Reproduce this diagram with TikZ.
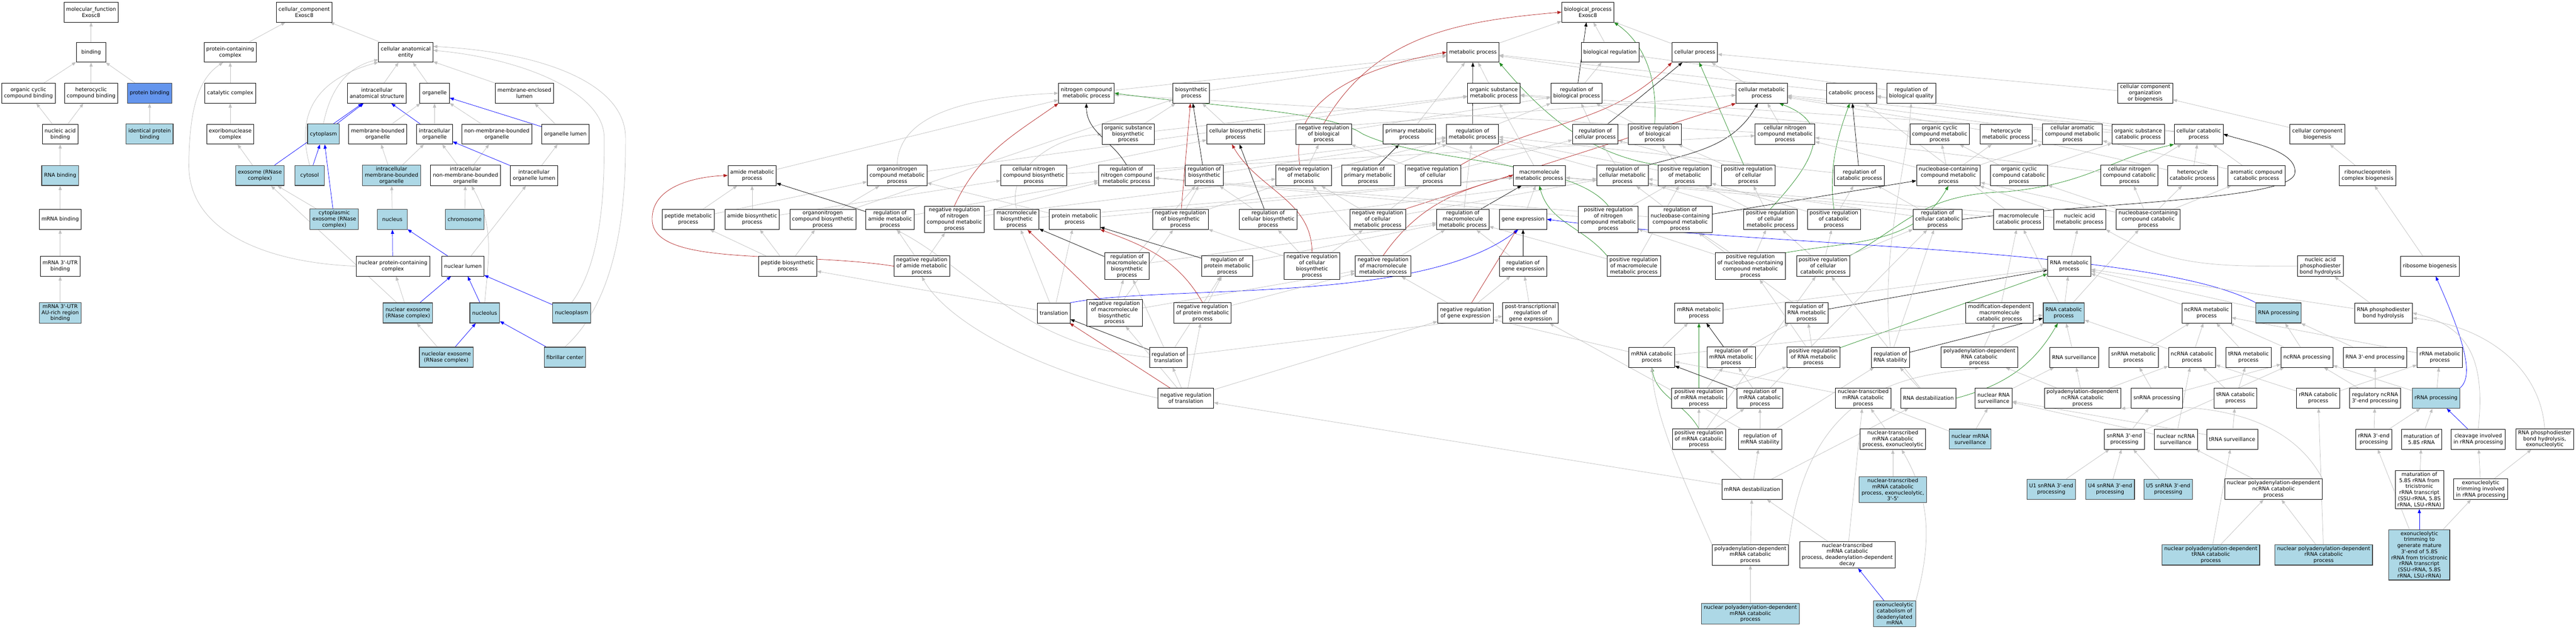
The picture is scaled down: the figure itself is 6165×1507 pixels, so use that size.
\documentclass[tikz,border=0pt]{standalone}
\usepackage{fontspec}
\setmainfont{DejaVu Sans}
\usepackage{tikz}
\usetikzlibrary{arrows.meta,shapes,calc}
\usetikzlibrary{positioning}
\pgfdeclarelayer{background}
\pgfsetlayers{background,main}
\definecolor{hitblue}{HTML}{ADD8E6}
\definecolor{querybl}{HTML}{6495ED}
\definecolor{edgegray}{HTML}{C0C0C0}
\definecolor{negred}{HTML}{B22222}
\definecolor{posgreen}{HTML}{228B22}
\tikzstyle{term} =
  [rectangle, draw, fill=white, line width=0.9pt, align=center,
   minimum width=71pt, minimum height=48pt, inner xsep=5.5pt, inner ysep=4pt,
   font=\fontsize{12.5}{14.5}\selectfont]
\tikzstyle{hit} = [term, fill=hitblue, draw=black!75, line width=1.5pt]
\tikzstyle{query} = [term, fill=querybl, draw=black!75, line width=1.5pt]
\tikzstyle{isa}=[draw,-{Triangle[length=10pt,width=7.5pt]},edgegray,line width=0.9pt]
\tikzstyle{partof}=[isa,blue]
\tikzstyle{regs}=[isa,black]
\tikzstyle{negregs}=[isa,negred]
\tikzstyle{posregs}=[isa,posgreen]

\begin{document}
\begin{tikzpicture}[x=1pt,y=1pt]
  \useasboundingbox (0,0) rectangle (6165,-1507);

  \node [term] (mf) at (218,-29) {molecular\_function\\Exosc8};
  \node [term] (binding) at (218,-125) {binding};
  \node [term] (orgcycbind) at (68,-223) {organic cyclic\\compound binding};
  \node [term] (hetbind) at (218,-223) {heterocyclic\\compound binding};
  \node [query] (protbind) at (358,-223) {protein binding};
  \node [term] (nucbind) at (144,-321) {nucleic acid\\binding};
  \node [hit] (identbind) at (358,-321) {identical protein\\binding};
  \node [hit] (rnabind) at (144,-420) {RNA binding};
  \node [term] (mrnabind) at (144,-525) {mRNA binding};
  \node [term] (utrbind) at (144,-637) {mRNA 3\textquotesingle-UTR\\binding};
  \node [hit] (aubind) at (144,-749) {mRNA 3\textquotesingle-UTR\\AU-rich region\\binding};

  \node [term] (cc) at (728,-29) {cellular\_component\\Exosc8};
  \node [term] (pcc) at (551,-125) {protein-containing\\complex};
  \node [term] (cae) at (971,-125) {cellular anatomical\\entity};
  \node [term] (catcx) at (551,-223) {catalytic complex};
  \node [term] (ias) at (902,-223) {intracellular\\anatomical structure};
  \node [term] (organelle) at (1040,-223) {organelle};
  \node [term] (mel) at (1255,-223) {membrane-enclosed\\lumen};
  \node [term] (exocx) at (551,-321) {exoribonuclease\\complex};
  \node [hit] (cytoplasm) at (774,-321) {cytoplasm};
  \node [term] (mbo) at (904,-321) {membrane-bounded\\organelle};
  \node [term] (io) at (1040,-321) {intracellular\\organelle};
  \node [term] (nmbo) at (1189,-321) {non-membrane-bounded\\organelle};
  \node [term] (ol) at (1353,-321) {organelle lumen};
  \node [hit] (exosome) at (622,-420) {exosome (RNase\\complex)};
  \node [hit] (cytosol) at (741,-420) {cytosol};
  \node [hit] (imbo) at (937,-420) {intracellular\\membrane-bounded\\organelle};
  \node [term] (inmbo) at (1114,-420) {intracellular\\non-membrane-bounded\\organelle};
  \node [term] (iol) at (1278,-420) {intracellular\\organelle lumen};
  \node [hit] (cytexo) at (800,-525) {cytoplasmic\\exosome (RNase\\complex)};
  \node [hit] (nucleus) at (939,-525) {nucleus};
  \node [hit] (chromosome) at (1112,-525) {chromosome};
  \node [term] (npcc) at (940,-637) {nuclear protein-containing\\complex};
  \node [term] (nlumen) at (1108,-637) {nuclear lumen};
  \node [hit] (nucexo) at (976,-749) {nuclear exosome\\(RNase complex)};
  \node [hit] (nucleolus) at (1160,-749) {nucleolus};
  \node [hit] (nucleoplasm) at (1368,-749) {nucleoplasm};
  \node [hit] (nolexo) at (1068,-855) {nucleolar exosome\\(RNase complex)};
  \node [hit] (fibc) at (1352,-855) {fibrillar center};

  \node [term] (bp) at (3800,-29) {biological\_process\\Exosc8};
  \node [term] (metab) at (3525,-125) {metabolic process};
  \node [term] (bioreg) at (3853,-125) {biological regulation};
  \node [term] (cellproc) at (4056,-125) {cellular process};
  \node [term] (ncmp) at (2600,-223) {nitrogen compound\\metabolic process};
  \node [term] (biosyn) at (2851,-223) {biosynthetic\\process};
  \node [term] (osmp) at (3575,-223) {organic substance\\metabolic process};
  \node [term] (regbp) at (3773,-223) {regulation of\\biological process};
  \node [term] (cmp) at (4216,-223) {cellular metabolic\\process};
  \node [term] (catab) at (4431,-223) {catabolic process};
  \node [term] (regbq) at (4574,-223) {regulation of\\biological quality};
  \node [term] (ccob) at (5134,-223) {cellular component\\organization\\or biogenesis};

  \node [term] (osbp) at (2700,-321) {organic substance\\biosynthetic\\process};
  \node [term] (cbp) at (2957,-321) {cellular biosynthetic\\process};
  \node [term] (nrbp) at (3168,-321) {negative regulation\\of biological\\process};
  \node [term] (pmp) at (3373,-321) {primary metabolic\\process};
  \node [term] (rmp) at (3524,-321) {regulation of\\metabolic process};
  \node [term] (rcp) at (3818,-321) {regulation of\\cellular process};
  \node [term] (prbp) at (3960,-321) {positive regulation\\of biological\\process};
  \node [term] (cncmp) at (4272,-321) {cellular nitrogen\\compound metabolic\\process};
  \node [term] (occmp) at (4642,-321) {organic cyclic\\compound metabolic\\process};
  \node [term] (hetmp) at (4801,-321) {heterocycle\\metabolic process};
  \node [term] (camp) at (4960,-321) {cellular aromatic\\compound metabolic\\process};
  \node [term] (oscp) at (5117,-321) {organic substance\\catabolic process};
  \node [term] (ccp) at (5262,-321) {cellular catabolic\\process};
  \node [term] (ccb) at (5546,-321) {cellular component\\biogenesis};

  \node [term] (amp) at (1800,-420) {amide metabolic\\process};
  \node [term] (oncmp) at (2147,-420) {organonitrogen\\compound metabolic\\process};
  \node [term] (cncbp) at (2474,-420) {cellular nitrogen\\compound biosynthetic\\process};
  \node [term] (rncmp) at (2696,-420) {regulation of\\nitrogen compound\\metabolic process};
  \node [term] (rbp) at (2882,-420) {regulation of\\biosynthetic\\process};
  \node [term] (nrmp) at (3120,-420) {negative regulation\\of metabolic\\process};
  \node [term] (rpmp) at (3274,-420) {regulation of\\primary metabolic\\process};
  \node [term] (nrcp) at (3429,-420) {negative regulation\\of cellular\\process};
  \node [term] (mmp) at (3684,-420) {macromolecule\\metabolic process};
  \node [term] (rcmp) at (3883,-420) {regulation of\\cellular metabolic\\process};
  \node [term] (prmp) at (4032,-420) {positive regulation\\of metabolic\\process};
  \node [term] (prcp) at (4184,-420) {positive regulation\\of cellular\\process};
  \node [term] (rcatp) at (4450,-420) {regulation of\\catabolic process};
  \node [term] (nbcmp) at (4663,-420) {nucleobase-containing\\compound metabolic\\process};
  \node [term] (occcp) at (4832,-420) {organic cyclic\\compound catabolic\\process};
  \node [term] (cnccp) at (5096,-420) {cellular nitrogen\\compound catabolic\\process};
  \node [term] (hetcp) at (5247,-420) {heterocycle\\catabolic process};
  \node [term] (accp) at (5400,-420) {aromatic compound\\catabolic process};
  \node [term] (rnpcb) at (5666,-420) {ribonucleoprotein\\complex biogenesis};

  \node [term] (pepmp) at (1647,-525) {peptide metabolic\\process};
  \node [term] (abp) at (1800,-525) {amide biosynthetic\\process};
  \node [term] (oncbp) at (1969,-525) {organonitrogen\\compound biosynthetic\\process};
  \node [term] (ramp) at (2130,-525) {regulation of\\amide metabolic\\process};
  \node [term] (nrncmp) at (2284,-525) {negative regulation\\of nitrogen\\compound metabolic\\process};
  \node [term] (mbp) at (2433,-525) {macromolecule\\biosynthetic\\process};
  \node [term] (protmp) at (2572,-525) {protein metabolic\\process};
  \node [term] (nrbiop) at (2825,-525) {negative regulation\\of biosynthetic\\process};
  \node [term] (rcbp) at (3035,-525) {regulation of\\cellular biosynthetic\\process};
  \node [term] (nrcmp) at (3297,-525) {negative regulation\\of cellular\\metabolic process};
  \node [term] (rmmp) at (3501,-525) {regulation of\\macromolecule\\metabolic process};
  \node [term] (geneexp) at (3645,-525) {gene expression};
  \node [term] (prncmp) at (3849,-525) {positive regulation\\of nitrogen\\compound metabolic\\process};
  \node [term] (rnbcmp) at (4021,-525) {regulation of\\nucleobase-containing\\compound metabolic\\process};
  \node [term] (prcmp) at (4237,-525) {positive regulation\\of cellular\\metabolic process};
  \node [term] (prcatp) at (4389,-525) {positive regulation\\of catabolic\\process};
  \node [term] (rccp) at (4637,-525) {regulation of\\cellular catabolic\\process};
  \node [term] (mcp) at (4831,-525) {macromolecule\\catabolic process};
  \node [term] (namp) at (4977,-525) {nucleic acid\\metabolic process};
  \node [term] (nbccp) at (5141,-525) {nucleobase-containing\\compound catabolic\\process};

  \node [term] (pepbp) at (1885,-637) {peptide biosynthetic\\process};
  \node [term] (nramp) at (2206,-637) {negative regulation\\of amide metabolic\\process};
  \node [term] (rmbp) at (2697,-637) {regulation of\\macromolecule\\biosynthetic\\process};
  \node [term] (rpromp) at (2937,-637) {regulation of\\protein metabolic\\process};
  \node [term] (nrcbp) at (3140,-637) {negative regulation\\of cellular\\biosynthetic\\process};
  \node [term] (nrmmp) at (3310,-637) {negative regulation\\of macromolecule\\metabolic process};
  \node [term] (rge) at (3645,-637) {regulation of\\gene expression};
  \node [term] (prmmp) at (3910,-637) {positive regulation\\of macromolecule\\metabolic process};
  \node [term] (prnbcmp) at (4189,-637) {positive regulation\\of nucleobase-containing\\compound metabolic\\process};
  \node [term] (prccp) at (4363,-637) {positive regulation\\of cellular\\catabolic process};
  \node [term] (rnamp) at (4952,-637) {RNA metabolic\\process};
  \node [term] (napbh) at (5553,-637) {nucleic acid\\phosphodiester\\bond hydrolysis};
  \node [term] (ribobio) at (5815,-637) {ribosome biogenesis};

  \node [term] (translation) at (2522,-749) {translation};
  \node [term] (nrmbp) at (2667,-749) {negative regulation\\of macromolecule\\biosynthetic\\process};
  \node [term] (nrpromp) at (2878,-749) {negative regulation\\of protein metabolic\\process};
  \node [term] (nrge) at (3507,-749) {negative regulation\\of gene expression};
  \node [term] (ptrge) at (3663,-749) {post-transcriptional\\regulation of\\gene expression};
  \node [term] (mrnamp) at (4066,-749) {mRNA metabolic\\process};
  \node [term] (rrnamp) at (4324,-749) {regulation of\\RNA metabolic\\process};
  \node [term] (mdmcp) at (4785,-749) {modification-dependent\\macromolecule\\catabolic process};
  \node [hit] (rnacp) at (4939,-749) {RNA catabolic\\process};
  \node [term] (ncrnamp) at (5281,-749) {ncRNA metabolic\\process};
  \node [hit] (rnaproc) at (5453,-749) {RNA processing};
  \node [term] (rpbh) at (5704,-749) {RNA phosphodiester\\bond hydrolysis};

  \node [term] (rtrans) at (2796,-855) {regulation of\\translation};
  \node [term] (mrnacp) at (3953,-855) {mRNA catabolic\\process};
  \node [term] (rmrnamp) at (4143,-855) {regulation of\\mRNA metabolic\\process};
  \node [term] (prrnamp) at (4340,-855) {positive regulation\\of RNA metabolic\\process};
  \node [term] (rrnas) at (4524,-855) {regulation of\\RNA stability};
  \node [term] (padrcp) at (4737,-855) {polyadenylation-dependent\\RNA catabolic\\process};
  \node [term] (rnasurv) at (4964,-855) {RNA surveillance};
  \node [term] (snrnamp) at (5106,-855) {snRNA metabolic\\process};
  \node [term] (ncrnacp) at (5246,-855) {ncRNA catabolic\\process};
  \node [term] (trnamp) at (5381,-855) {tRNA metabolic\\process};
  \node [term] (ncrnaproc) at (5521,-855) {ncRNA processing};
  \node [term] (rna3p) at (5684,-855) {RNA 3\textquotesingle-end processing};
  \node [term] (rrnamet) at (5839,-855) {rRNA metabolic\\process};

  \node [term] (nrtrans) at (2838,-953) {negative regulation\\of translation};
  \node [term] (prmrnamp) at (4066,-953) {positive regulation\\of mRNA metabolic\\process};
  \node [term] (rmrnacp) at (4212,-953) {regulation of\\mRNA catabolic\\process};
  \node [term] (ntmcp) at (4459,-953) {nuclear-transcribed\\mRNA catabolic\\process};
  \node [term] (rnadestab) at (4615,-953) {RNA destabilization};
  \node [term] (nrnasurv) at (4771,-953) {nuclear RNA\\surveillance};
  \node [term] (padncp) at (4984,-953) {polyadenylation-dependent\\ncRNA catabolic\\process};
  \node [term] (snrnaproc) at (5162,-953) {snRNA processing};
  \node [term] (trnacp) at (5350,-953) {tRNA catabolic\\process};
  \node [term] (rrnacp) at (5548,-953) {rRNA catabolic\\process};
  \node [term] (regnc3p) at (5684,-953) {regulatory ncRNA\\3\textquotesingle-end processing};
  \node [hit] (rrnaproc) at (5830,-953) {rRNA processing};

  \node [term] (prmrnacp) at (4066,-1051) {positive regulation\\of mRNA catabolic\\process};
  \node [term] (rmrnas) at (4212,-1051) {regulation of\\mRNA stability};
  \node [term] (ntmcpexo) at (4530,-1051) {nuclear-transcribed\\mRNA catabolic\\process, exonucleolytic};
  \node [hit] (nmrnasurv) at (4715,-1051) {nuclear mRNA\\surveillance};
  \node [term] (snrna3p) at (5084,-1051) {snRNA 3\textquotesingle-end\\processing};
  \node [term] (nncsurv) at (5207,-1051) {nuclear ncRNA\\surveillance};
  \node [term] (trnasurv) at (5342,-1051) {tRNA surveillance};
  \node [term] (rrna3p) at (5681,-1051) {rRNA 3\textquotesingle-end\\processing};
  \node [term] (mat58) at (5795,-1051) {maturation of\\5.8S rRNA};
  \node [term] (cleav) at (5931,-1051) {cleavage involved\\in rRNA processing};
  \node [term] (rpbhexo) at (6090,-1051) {RNA phosphodiester\\bond hydrolysis,\\exonucleolytic};

  \node [term] (mrnadestab) at (4193,-1171) {mRNA destabilization};
  \node [hit] (ntmcp35) at (4530,-1172) {nuclear-transcribed\\mRNA catabolic\\process, exonucleolytic,\\3\textquotesingle-5\textquotesingle};
  \node [hit] (uone) at (4909,-1171) {U1 snRNA 3\textquotesingle-end\\processing};
  \node [hit] (ufour) at (5050,-1171) {U4 snRNA 3\textquotesingle-end\\processing};
  \node [hit] (ufive) at (5189,-1171) {U5 snRNA 3\textquotesingle-end\\processing};
  \node [term] (npadncp) at (5441,-1171) {nuclear polyadenylation-dependent\\ncRNA catabolic\\process};
  \node [term] (mattri) at (5790,-1172) {maturation of\\5.8S rRNA from\\tricistronic\\rRNA transcript\\(SSU-rRNA, 5.8S\\rRNA, LSU-rRNA)};
  \node [term] (exotrim) at (5937,-1171) {exonucleolytic\\trimming involved\\in rRNA processing};

  \node [term] (padmcp) at (4189,-1328) {polyadenylation-dependent\\mRNA catabolic\\process};
  \node [term] (ntmcpdd) at (4421,-1328) {nuclear-transcribed\\mRNA catabolic\\process, deadenylation-dependent\\decay};
  \node [hit] (npadtcp) at (5291,-1328) {nuclear polyadenylation-dependent\\tRNA catabolic\\process};
  \node [hit] (npadrcp) at (5561,-1328) {nuclear polyadenylation-dependent\\rRNA catabolic\\process};
  \node [hit] (exotrimgen) at (5790,-1328) {exonucleolytic\\trimming to\\generate mature\\3\textquotesingle-end of 5.8S\\rRNA from tricistronic\\rRNA transcript\\(SSU-rRNA, 5.8S\\rRNA, LSU-rRNA)};

  \node [hit] (npadmcp) at (4189,-1469) {nuclear polyadenylation-dependent\\mRNA catabolic\\process};
  \node [hit] (exocat) at (4534,-1469) {exonucleolytic\\catabolism of\\deadenylated\\mRNA};

  \begin{pgfonlayer}{background}
  \fill [white] (0,0) rectangle (6165,-1507);
  \draw [isa] (binding) to (mf);
  \draw [isa] (orgcycbind) to (binding);
  \draw [isa] (hetbind) to (binding);
  \draw [isa] (protbind) to (binding);
  \draw [isa] (nucbind) to (orgcycbind);
  \draw [isa] (nucbind) to (hetbind);
  \draw [isa] (identbind) to (protbind);
  \draw [isa] (rnabind) to (nucbind);
  \draw [isa] (mrnabind) to (rnabind);
  \draw [isa] (utrbind) to (mrnabind);
  \draw [isa] (aubind) to (utrbind);

  \draw [isa] (pcc) to (cc);
  \draw [isa] (cae) to (cc);
  \draw [isa] (catcx) to (pcc);
  \draw [isa] (exocx) to (catcx);
  \draw [isa] (exosome) to (exocx);
  \draw [isa] (npcc.west) .. controls (650,-630) and (455,-560) .. (452,-400)
    .. controls (452,-250) and (480,-185) .. (pcc.235);
  \draw [isa] (ias) to (cae);
  \draw [isa] (organelle) to (cae);
  \draw [isa] (mel) to (cae);
  \draw [isa] (cytoplasm.north) .. controls (790,-215) and (830,-160) .. (cae.195);
  \draw [isa] (cytosol.north) .. controls (718,-310) and (720,-200) .. (cae.200);
  \draw [isa] (nucleoplasm.north) .. controls (1446,-620) and (1446,-430) .. (1446,-330)
    .. controls (1446,-220) and (1250,-140) .. (cae.4);
  \draw [isa] (fibc.north) .. controls (1497,-700) and (1497,-430) .. (1497,-330)
    .. controls (1497,-200) and (1300,-125) .. (cae.12);
  \draw [partof] (exosome) to (ias);
  \draw [partof] (cytoplasm) to (ias);
  \draw [partof] (io) to (ias);
  \draw [isa] (mbo) to (organelle);
  \draw [isa] (io) to (organelle);
  \draw [isa] (nmbo) to (organelle);
  \draw [partof] (ol) to (organelle);
  \draw [isa] (ol) to (mel);
  \draw [partof] (cytosol) to (cytoplasm);
  \draw [partof] (cytexo) to (cytoplasm);
  \draw [isa] (cytexo) to (exosome);
  \draw [isa] (imbo) to (mbo);
  \draw [isa] (imbo) to (io);
  \draw [isa] (inmbo) to (io);
  \draw [isa] (inmbo) to (nmbo);
  \draw [partof] (iol) to (io);
  \draw [isa] (iol) to (ol);
  \draw [isa] (nucleus) to (imbo);
  \draw [isa] (chromosome) to (inmbo);
  \draw [isa] (nucleolus.north) to[out=85,in=-60] (inmbo.-60);
  \draw [partof] (npcc) to (nucleus);
  \draw [partof] (nlumen) to (nucleus);
  \draw [isa] (nlumen) to (iol);
  \draw [isa] (nucexo) to (npcc);
  \draw [partof] (nucexo) to (nlumen);
  \draw [isa] (nucexo) to (exosome);
  \draw [partof] (nucleolus) to (nlumen);
  \draw [partof] (nucleoplasm) to (nlumen);
  \draw [isa] (nolexo) to (nucexo);
  \draw [partof] (nolexo) to (nucleolus);
  \draw [partof] (fibc) to (nucleolus);

  \draw [isa] (metab) to (bp);
  \draw [isa] (bioreg) to (bp);
  \draw [isa] (cellproc) to (bp);
  \draw [isa] (ccob) to (cellproc);
  \draw [negregs] (nrbp.north) to[out=60,in=185] (bp.west);
  \draw [regs] (regbp) to (bp);
  \draw [posregs] (prbp.north) .. controls (3968,-180) and (3930,-100) .. (bp.south east);
  \draw [isa] (regbp) to (bioreg);
  \draw [isa] (regbq) to (bioreg);
  \draw [isa] (nrbp) to (regbp);
  \draw [isa] (prbp) to (regbp);
  \draw [isa] (cmp) to (cellproc);
  \draw [isa] (cmp) to (metab);
  \draw [isa] (catab) to (metab);
  \draw [isa] (osmp) to (metab);
  \draw [isa] (pmp) to (metab);
  \draw [isa] (ncmp) to (metab);
  \draw [isa] (biosyn) to (metab);
  \draw [regs] (rmp) to (metab);
  \draw [negregs] (nrmp.110) to[out=100,in=190] (metab.west);
  \draw [posregs] (prmp.north west) .. controls (3800,-370) and (3690,-270) .. (metab.south east);
  \draw [isa] (rmp) to (regbp);
  \draw [isa] (nrmp) to (rmp);
  \draw [isa] (nrmp) to (nrbp);
  \draw [isa] (prmp) to (rmp);
  \draw [isa] (prmp) to (prbp);
  \draw [regs] (rcp) to (cellproc);
  \draw [isa] (rcp) to (regbp);
  \draw [negregs] (nrcp.north east) to[out=30,in=-135] (cellproc.south west);
  \draw [isa] (nrcp) to (rcp);
  \draw [isa] (nrcp) to (nrbp);
  \draw [posregs] (prcp) to (cellproc);
  \draw [isa] (prcp) to (rcp);
  \draw [isa] (prcp) to (prbp);
  \draw [regs] (rcmp.north east) to[out=15,in=-120] (cmp.250);
  \draw [isa] (rcmp) to (rmp);
  \draw [isa] (rcmp) to (rcp);
  \draw [negregs] (nrcmp.north east) to (cmp.south west);
  \draw [isa] (nrcmp) to (rcmp);
  \draw [isa] (nrcmp) to (nrmp);
  \draw [isa] (nrcmp) to (nrcp);
  \draw [posregs] (prcmp.north) .. controls (4330,-400) and (4400,-300) .. (cmp.-30);
  \draw [isa] (prcmp) to (rcmp);
  \draw [isa] (prcmp) to (prmp);
  \draw [isa] (prcmp) to (prcp);
  \draw [regs] (rpmp) to (pmp);
  \draw [isa] (rpmp) to (rmp);
  \draw [isa] (mmp) to (osmp);
  \draw [isa] (mmp) to (pmp);
  \draw [regs] (rmmp) to (mmp);
  \draw [isa] (rmmp) to (rmp);
  \draw [negregs] (nrmmp.north) to[out=55,in=195] (mmp.west);
  \draw [isa] (nrmmp) to (rmmp);
  \draw [isa] (nrmmp) to (nrmp);
  \draw [posregs] (prmmp.north west) to[out=130,in=-75] (mmp.south);
  \draw [isa] (prmmp) to (rmmp);
  \draw [isa] (prmmp) to (prmp);
  \draw [isa] (geneexp) to (mmp);
  \draw [regs] (rge) to (geneexp);
  \draw [isa] (rge) to (rmmp);
  \draw [negregs] (nrge) to (geneexp);
  \draw [isa] (nrge) to (rge);
  \draw [isa] (nrge) to (nrmmp);
  \draw [isa] (ptrge) to (rge);
  \draw [isa] (cncmp) to (cmp);
  \draw [isa] (cncmp) to (ncmp);
  \draw [isa] (occmp) to (osmp);
  \draw [isa] (hetmp) to (cmp);
  \draw [isa] (camp) to (cmp);
  \draw [isa] (oscp) to (osmp);
  \draw [isa] (oscp) to (catab);
  \draw [isa] (ccp) to (catab);
  \draw [isa] (ccp) to (cmp);
  \draw [regs] (rcatp) to (catab);
  \draw [isa] (rcatp) to (rmp);
  \draw [posregs] (prcatp.north) .. controls (4375,-400) and (4400,-320) .. (catab.260);
  \draw [isa] (prcatp) to (rcatp);
  \draw [isa] (prcatp) to (prmp);
  \draw [regs] (rccp.east) .. controls (5000,-485) and (5480,-480) .. (5492,-415)
    .. controls (5500,-360) and (5380,-340) .. (ccp.east);
  \draw [isa] (rccp) to (rcatp);
  \draw [isa] (rccp) to (rcmp);
  \draw [posregs] (prccp.north east) .. controls (4560,-540) and (4600,-465) .. (4800,-459)
    .. controls (5000,-440) and (5050,-380) .. (ccp.south west);
  \draw [isa] (prccp) to (rccp);
  \draw [isa] (prccp) to (prcatp);
  \draw [isa] (prccp) to (prcmp);
  \draw [isa] (nbcmp) to (cncmp);
  \draw [isa] (nbcmp) to (occmp);
  \draw [isa] (nbcmp) to (hetmp);
  \draw [isa] (nbcmp) to (camp);
  \draw [regs] (rnbcmp) to (nbcmp);
  \draw [isa] (rnbcmp) to (rcmp);
  \draw [isa] (rnbcmp) to (rncmp);
  \draw [posregs] (prnbcmp.north east) to[out=10,in=-120] (nbcmp.south);
  \draw [isa] (prnbcmp) to (rnbcmp);
  \draw [isa] (prnbcmp) to (prcmp);
  \draw [isa] (prnbcmp) to (prncmp);
  \draw [posregs] (prncmp.north) .. controls (3760,-380) and (3400,-390) .. (3260,-320)
    .. controls (3180,-265) and (2900,-255) .. (ncmp.east);
  \draw [isa] (prncmp) to (rncmp);
  \draw [isa] (prncmp) to (prmp);

  \draw [isa] (oncmp.north) .. controls (2150,-300) and (2250,-235) .. (ncmp.west);
  \draw [isa] (oncmp) to (osmp);
  \draw [isa] (amp) to (ncmp);
  \draw [isa] (pepmp) to (amp);
  \draw [isa] (pepmp) to (oncmp);
  \draw [isa] (abp) to (amp);
  \draw [isa] (abp) to (cncbp);
  \draw [isa] (oncbp) to (oncmp);
  \draw [isa] (oncbp) to (biosyn);
  \draw [isa] (pepbp) to (pepmp);
  \draw [isa] (pepbp) to (abp);
  \draw [isa] (pepbp) to (oncbp);
  \draw [isa] (translation) to (pepbp);
  \draw [isa] (translation) to (mbp);
  \draw [isa] (translation) to (protmp);
  \draw [partof] (translation.north east) .. controls (2800,-680) and (3400,-730) .. (geneexp.245);
  \draw [isa] (cncbp) to (cbp);
  \draw [isa] (cncbp) to (cncmp);
  \draw [isa] (mbp.north) .. controls (2410,-420) and (2500,-330) .. (osbp.west);
  \draw [isa] (mbp) to (mmp);
  \draw [isa] (protmp) to (oncmp);
  \draw [isa] (protmp) to (mmp);
  \draw [isa] (osbp) to (biosyn);
  \draw [isa] (osbp) to (osmp);
  \draw [isa] (cbp) to (biosyn);
  \draw [isa] (cbp) to (cmp);
  \draw [regs] (rncmp.north) to[out=120,in=-90] (ncmp.south);
  \draw [isa] (rncmp) to (rmp);
  \draw [negregs] (nrncmp.north) to[out=65,in=215] (ncmp.south west);
  \draw [isa] (nrncmp) to (rncmp);
  \draw [isa] (nrncmp) to (nrmp);
  \draw [regs] (rbp) to (biosyn);
  \draw [isa] (rbp) to (rmp);
  \draw [negregs] (nrbiop) to (biosyn);
  \draw [isa] (nrbiop) to (rbp);
  \draw [isa] (nrbiop) to (nrmp);
  \draw [regs] (rcbp) to (cbp);
  \draw [isa] (rcbp) to (rbp);
  \draw [isa] (rcbp) to (rcmp);
  \draw [negregs] (nrcbp.north) to[out=90,in=-60] (cbp.-110);
  \draw [isa] (nrcbp) to (rcbp);
  \draw [isa] (nrcbp) to (nrbiop);
  \draw [isa] (nrcbp) to (nrcmp);
  \draw [regs] (rmbp) to (mbp);
  \draw [isa] (rmbp) to (rbp);
  \draw [isa] (rmbp) to (rmmp);
  \draw [negregs] (nrmbp) to (mbp);
  \draw [isa] (nrmbp) to (rmbp);
  \draw [isa] (nrmbp) to (nrbiop);
  \draw [isa] (nrmbp) to (nrmmp);
  \draw [regs] (rpromp) to (protmp);
  \draw [isa] (rpromp) to (rmmp);
  \draw [negregs] (nrpromp.north) to[out=120,in=-20] (protmp.south east);
  \draw [isa] (nrpromp) to (rpromp);
  \draw [isa] (nrpromp) to (nrmmp);
  \draw [regs] (ramp) to (amp);
  \draw [isa] (ramp) to (rncmp);
  \draw [negregs] (nramp.west) .. controls (1900,-600) and (1570,-640) .. (1561,-530)
    .. controls (1555,-440) and (1680,-422) .. (amp.west);
  \draw [isa] (nramp) to (ramp);
  \draw [isa] (nramp) to (nrncmp);
  \draw [regs] (rtrans) to (translation);
  \draw [isa] (rtrans) to (rmbp);
  \draw [isa] (rtrans.west) .. controls (2450,-830) and (2320,-640) .. (ramp.-60);
  \draw [isa] (rtrans) to (ptrge);
  \draw [isa] (rtrans) to (rpromp);
  \draw [negregs] (nrtrans) to (translation);
  \draw [isa] (nrtrans) to (rtrans);
  \draw [isa] (nrtrans) to (nrmbp);
  \draw [isa] (nrtrans) to (nrpromp);
  \draw [isa] (nrtrans.west) .. controls (2450,-880) and (2260,-760) .. (nramp.south);
  \draw [isa] (nrtrans) to (nrge);

  \draw [isa] (mcp) to (mmp);
  \draw [isa] (mcp) to (catab);
  \draw [isa] (namp) to (nbcmp);
  \draw [isa] (namp) to (mmp);
  \draw [isa] (nbccp) to (nbcmp);
  \draw [isa] (nbccp) to (cnccp);
  \draw [isa] (nbccp) to (hetcp);
  \draw [isa] (nbccp) to (accp);
  \draw [isa] (nbccp) to (occcp);
  \draw [isa] (cnccp) to (ccp);
  \draw [isa] (cnccp) to (cncmp);
  \draw [isa] (hetcp) to (ccp);
  \draw [isa] (hetcp) to (hetmp);
  \draw [isa] (accp) to (ccp);
  \draw [isa] (accp) to (camp);
  \draw [isa] (occcp) to (oscp);
  \draw [isa] (occcp) to (occmp);
  \draw [isa] (rnamp) to (namp);
  \draw [regs] (rrnamp) to (rnamp);
  \draw [isa] (rrnamp) to (rnbcmp);
  \draw [posregs] (prrnamp) to (rnamp);
  \draw [isa] (prrnamp) to (rrnamp);
  \draw [isa] (prrnamp) to (prnbcmp);
  \draw [isa] (mrnamp) to (rnamp);
  \draw [regs] (rmrnamp) to (mrnamp);
  \draw [isa] (rmrnamp) to (rrnamp);
  \draw [posregs] (prmrnamp) to (mrnamp);
  \draw [isa] (prmrnamp) to (rmrnamp);
  \draw [isa] (prmrnamp) to (prrnamp);
  \draw [isa] (mrnacp) to (mrnamp);
  \draw [isa] (mrnacp) to (rnacp);
  \draw [isa] (mrnacp) to (nrge);
  \draw [regs] (rmrnacp) to (mrnacp);
  \draw [isa] (rmrnacp) to (rmrnamp);
  \draw [isa] (rmrnacp) to (rccp);
  \draw [posregs] (prmrnacp.north) to[out=120,in=-80] (mrnacp.south);
  \draw [isa] (prmrnacp) to (rmrnacp);
  \draw [isa] (prmrnacp) to (prmrnamp);
  \draw [isa] (prmrnacp) to (prccp);
  \draw [isa] (rnacp) to (rnamp);
  \draw [isa] (rnacp) to (mcp);
  \draw [isa] (rnacp) to (nbccp);
  \draw [regs] (rrnas) to (rnacp);
  \draw [isa] (rrnas.north) .. controls (4500,-600) and (4560,-420) .. (regbq.south);
  \draw [isa] (rrnas) to (rccp);
  \draw [posregs] (rnadestab.east) to[out=15,in=-120] (rnacp.240);
  \draw [isa] (rnadestab) to (rrnas);
  \draw [isa] (rnadestab) to (prccp);
  \draw [isa] (ntmcp) to (mrnacp);
  \draw [isa] (padrcp) to (rnacp);
  \draw [isa] (padrcp) to (mdmcp);
  \draw [isa] (mdmcp) to (mcp);
  \draw [isa] (rnasurv) to (rnacp);
  \draw [isa] (nrnasurv) to (rnasurv);
  \draw [isa] (ncrnamp) to (rnamp);
  \draw [isa] (ncrnacp) to (ncrnamp);
  \draw [isa] (ncrnacp) to (rnacp);
  \draw [isa] (snrnamp) to (ncrnamp);
  \draw [isa] (trnamp) to (ncrnamp);
  \draw [isa] (rrnamet) to (ncrnamp);
  \draw [isa] (rnaproc) to (rnamp);
  \draw [partof] (rnaproc.north west) .. controls (5150,-590) and (4200,-590) .. (geneexp.east);
  \draw [isa] (ncrnaproc) to (rnaproc);
  \draw [isa] (ncrnaproc) to (ncrnamp);
  \draw [isa] (rna3p) to (rnaproc);
  \draw [isa] (rpbh) to (napbh);
  \draw [isa] (rpbh) to (rnamp);
  \draw [isa] (napbh.west) to[out=180,in=-30] (namp.south east);
  \draw [isa] (padncp) to (ncrnacp);
  \draw [isa] (padncp) to (rnasurv);
  \draw [isa] (padncp) to (padrcp);
  \draw [isa] (snrnaproc) to (snrnamp);
  \draw [isa] (snrnaproc) to (ncrnaproc);
  \draw [isa] (trnacp) to (trnamp);
  \draw [isa] (trnacp) to (ncrnacp);
  \draw [isa] (rrnacp) to (rrnamet);
  \draw [isa] (rrnacp) to (ncrnacp);
  \draw [isa] (regnc3p) to (rna3p);
  \draw [isa] (regnc3p) to (ncrnaproc);
  \draw [isa] (rrnaproc) to (rrnamet);
  \draw [isa] (rrnaproc) to (ncrnaproc);
  \draw [partof] (rrnaproc.north east) .. controls (5920,-900) and (5900,-820) .. (ribobio.-60);
  \draw [isa] (ribobio) to (rnpcb);
  \draw [isa] (rnpcb) to (ccb);
  \draw [isa] (ccb) to (ccob);

  \draw [isa] (rmrnas) to (rmrnacp);
  \draw [isa] (rmrnas) to (rrnas);
  \draw [isa] (rmrnas) to (ptrge);
  \draw [isa] (ntmcpexo) to (ntmcp);
  \draw [isa] (nmrnasurv) to (nrnasurv);
  \draw [isa] (nmrnasurv) to (ntmcp);
  \draw [isa] (snrna3p) to (snrnaproc);
  \draw [isa] (snrna3p) to (ncrnaproc);
  \draw [isa] (nncsurv) to (nrnasurv);
  \draw [isa] (nncsurv) to (ncrnacp);
  \draw [isa] (trnasurv) to (trnacp);
  \draw [isa] (trnasurv) to (nrnasurv);
  \draw [isa] (rrna3p) to (rrnaproc);
  \draw [isa] (rrna3p) to (regnc3p);
  \draw [isa] (mat58) to (rrnaproc);
  \draw [partof] (cleav) to (rrnaproc);
  \draw [isa] (cleav.north) .. controls (5950,-850) and (5900,-780) .. (rpbh.east);
  \draw [isa] (rpbhexo.north) .. controls (6080,-880) and (5950,-780) .. (rpbh.-10);
  \draw [isa] (mrnadestab) to (prmrnacp);
  \draw [isa] (mrnadestab) to (rmrnas);
  \draw [isa] (mrnadestab) to (rnadestab);
  \draw [isa] (mrnadestab) to (nrtrans);
  \draw [isa] (ntmcp35) to (ntmcpexo);
  \draw [isa] (uone) to (snrna3p);
  \draw [isa] (ufour) to (snrna3p);
  \draw [isa] (ufive) to (snrna3p);
  \draw [isa] (npadncp) to (nncsurv);
  \draw [isa] (npadncp.north east) .. controls (5480,-1000) and (5300,-960) .. (padncp.south east);
  \draw [isa] (mattri) to (mat58);
  \draw [isa] (exotrim) to (cleav);
  \draw [isa] (exotrim) to (rpbhexo);
  \draw [isa] (padmcp) to (mrnadestab);
  \draw [isa] (padmcp.north west) .. controls (4030,-1150) and (3960,-1000) .. (mrnacp.south);
  \draw [isa] (padmcp.north east) .. controls (4330,-900) and (4600,-900) .. (padrcp.south);
  \draw [isa] (ntmcpdd) to (mrnadestab);
  \draw [isa] (ntmcpdd) to (ntmcp);
  \draw [isa] (npadtcp) to (npadncp);
  \draw [isa] (npadtcp) to (trnasurv);
  \draw [isa] (npadrcp) to (npadncp);
  \draw [isa] (npadrcp) to (rrnacp);
  \draw [partof] (exotrimgen) to (mattri);
  \draw [isa] (exotrimgen) to (rrna3p);
  \draw [isa] (exotrimgen) to (exotrim);
  \draw [isa] (npadmcp) to (padmcp);
  \draw [partof] (exocat) to (ntmcpdd);
  \draw [isa] (exocat.north east) to[out=75,in=-60] (ntmcpexo.-50);
  \end{pgfonlayer}
\end{tikzpicture}
\end{document}
